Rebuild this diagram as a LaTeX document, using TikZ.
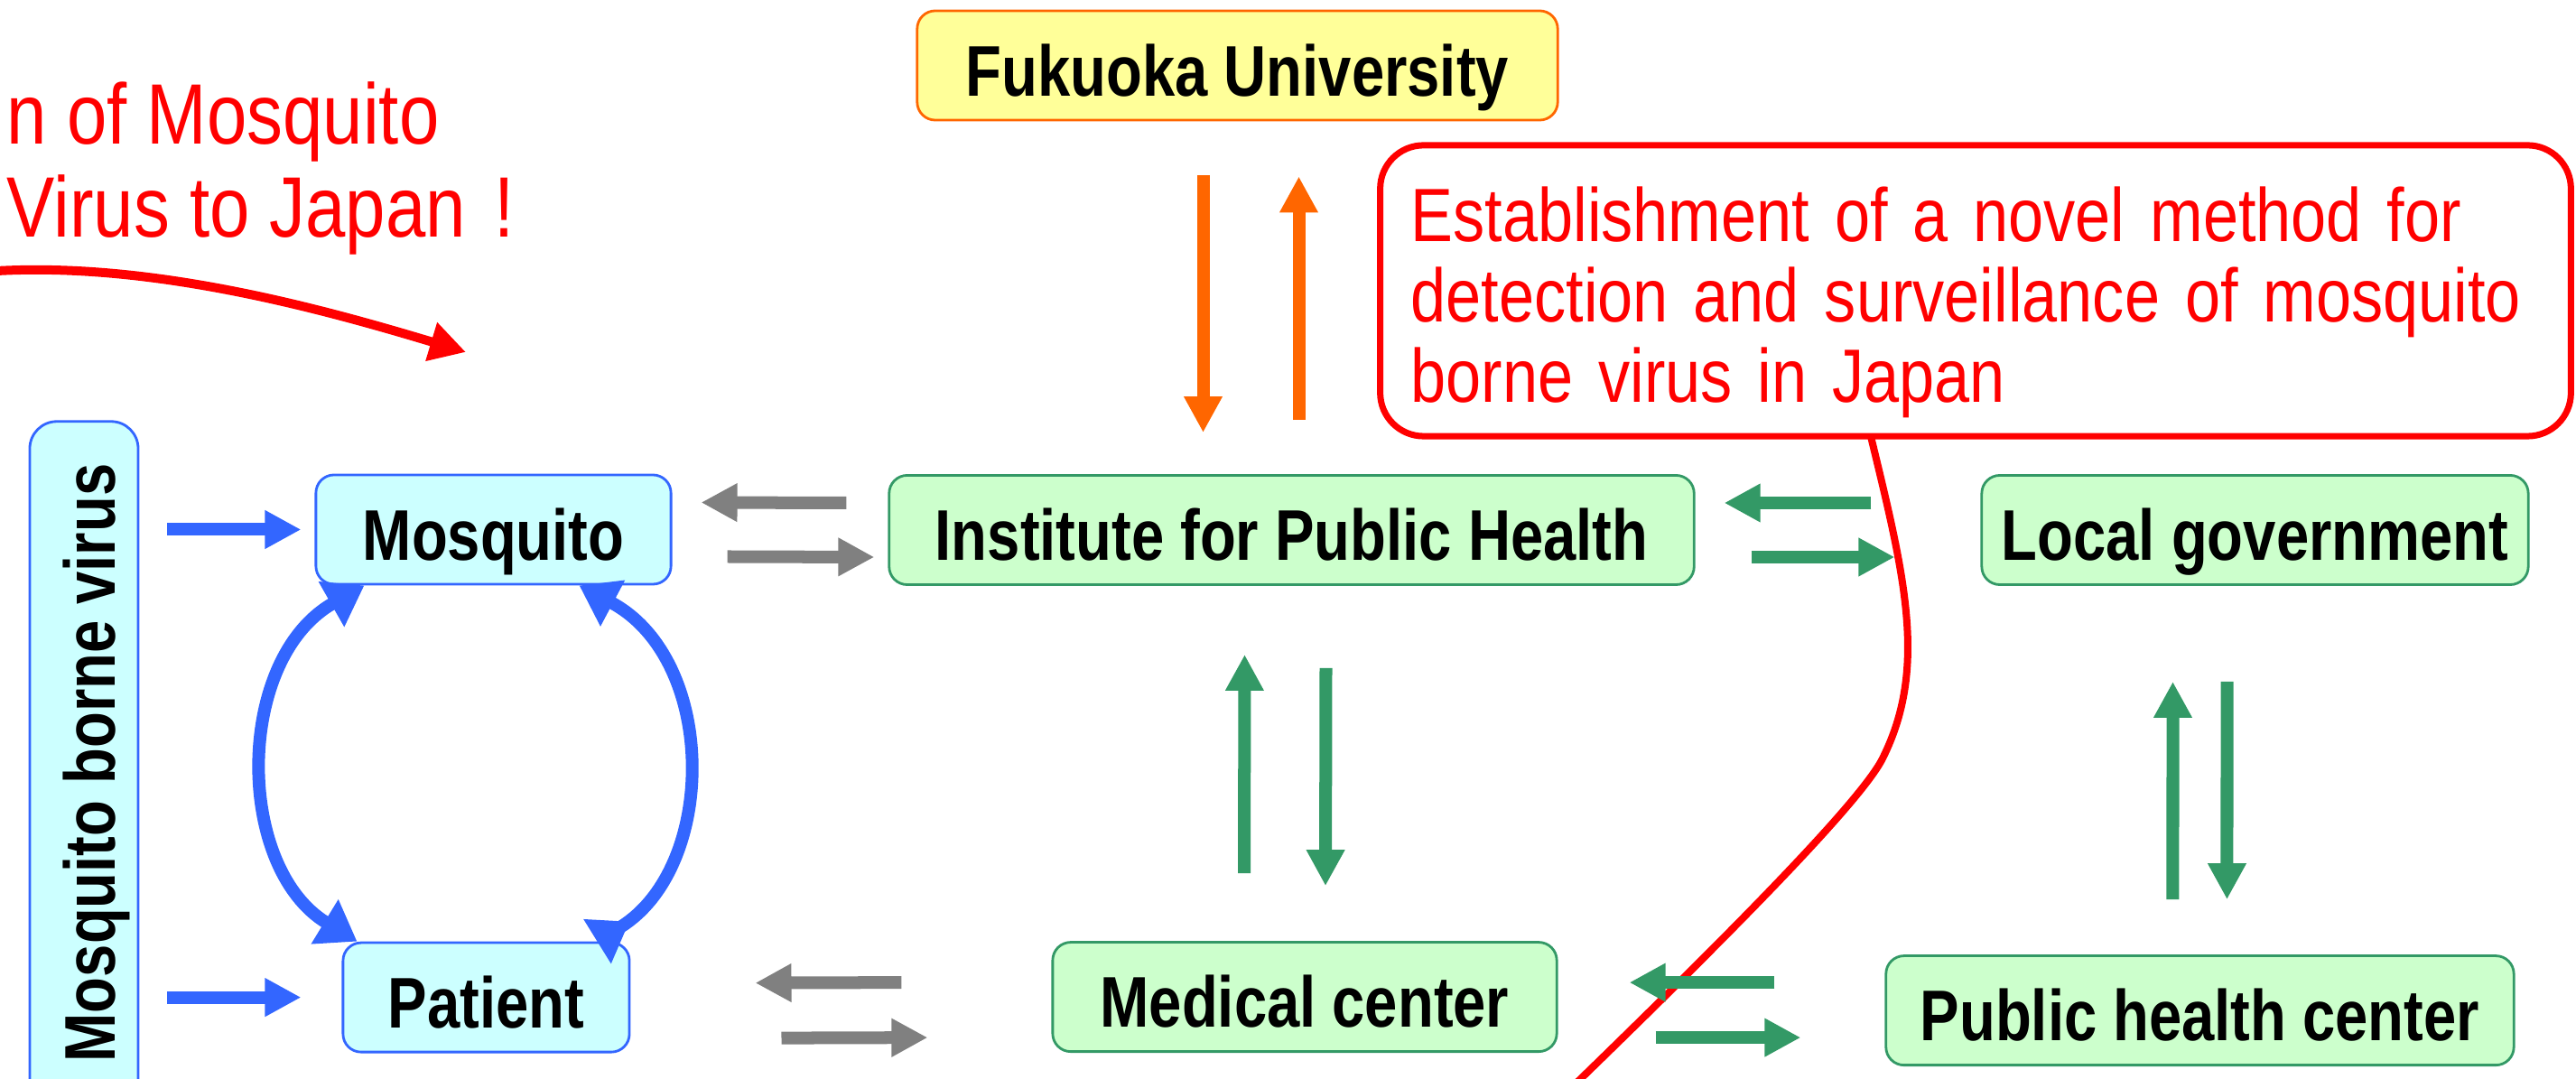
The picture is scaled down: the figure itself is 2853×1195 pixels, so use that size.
\documentclass[tikz,border=0pt]{standalone}
\usepackage{fontspec}
\newfontfamily\boxfont{Liberation Sans}[FakeStretch=0.82]
\newfontfamily\notefont{Liberation Sans}[FakeStretch=0.84]
\usetikzlibrary{positioning,calc,arrows.meta}
\definecolor{hostline}{HTML}{3366FF}
\definecolor{hostfill}{HTML}{CCFFFF}
\definecolor{officeline}{HTML}{339966}
\definecolor{officefill}{HTML}{CCFFCC}
\definecolor{univline}{HTML}{FF6600}
\definecolor{univfill}{HTML}{FFFF99}
\definecolor{flowgray}{HTML}{808080}

\begin{document}
\begin{tikzpicture}[
    x=0.01cm, y=-0.01cm, % <-- ONE UNIT = ONE PIXEL OF THE SLIDE, Y DOWNWARDS
    >={Triangle[length=0.4cm,width=0.4cm]},
    cycletip/.tip={Triangle[length=0.42cm,width=0.55cm]},
    box/.style={draw, line width=0.8pt, rounded corners=0.2cm, inner sep=0pt,
      minimum height=1.21cm, text height=0.67cm, text depth=0pt,
      font=\boxfont\bfseries\fontsize{22.6}{27}\selectfont},
    host/.style={box, draw=hostline, fill=hostfill},
    office/.style={box, draw=officeline, fill=officefill},
    univ/.style={box, draw=univline, fill=univfill},
    note/.style={text=red, inner sep=0pt, align=left},
    flow/.style={line width=0.14cm, ->},
    cycle/.style={line width=0.14cm, draw=hostline}
  ]
    \useasboundingbox (0,0) rectangle (2853,1195);

    % Hosts of the virus
    \node[host, minimum width=1.2cm, minimum height=7.56cm, rounded corners=0.3cm] (vbox) at (93,845) {};
    \node[rotate=90, anchor=base, inner sep=0pt, font=\boxfont\bfseries\fontsize{22.6}{27}\selectfont] (vtext) at (127,845) {Mosquito borne virus};

    \node[host, minimum width=3.93cm] (mosq) at (546.5,586.5) {Mosquito};
    \node[host, minimum width=3.17cm, below=3.94cm of mosq, xshift=-0.08cm] (patient) {Patient};

    % Organisations
    \node[univ, minimum width=7.09cm] (fukuoka) at (1370.5,72.5) {Fukuoka University};
    \node[office, minimum width=8.91cm] (iph) at (1430.5,587) {Institute for Public Health};
    \node[office, minimum width=5.58cm, below=3.93cm of iph, xshift=0.145cm] (medical) {Medical center};
    \node[office, minimum width=6.05cm] (localgov) at (2497.5,587) {Local government};
    \node[office, minimum width=6.95cm, below=4.08cm of localgov, xshift=-0.61cm] (phc) {Public health center};

    % Aim of the study
    \coordinate (tailend) at (1735,1210);
    \draw[red, line width=0.08cm] ($(iph.north east)+(194,-43)$) .. controls (2110,640) and (2135,740) .. (2085,840)
      .. controls (2060,890) and (1900,1050) .. (tailend);
    \node[note, draw=red, fill=white, line width=0.07cm, rounded corners=0.48cm,
      minimum width=13.18cm, minimum height=3.22cm, text width=12.5cm, inner xsep=0.34cm,
      text height=0.86cm, font=\notefont\fontsize{23.8}{25.3}\selectfont] (aim) at (2188,322)
      {Establishment of a novel method for\\detection and surveillance of mosquito\\borne virus in Japan};

    % Invasion
    \node[note, anchor=north west, font=\notefont\fontsize{27}{29.3}\selectfont] (intro) at (7,90)
      {n of Mosquito\\Virus to Japan\,\,!};
    \coordinate (introstart) at (-30,302);
    \coordinate (introtip) at (516,390);
    \draw[red, line width=0.1cm, -{Triangle[length=0.4cm,width=0.42cm]}] (introstart) .. controls (150,285) and (350,340) .. (introtip);

    % Arrows
    \draw[flow, hostline] ($(vbox.east |- mosq.west)+(31,0)$) -- ($(mosq.west)+(-15,0)$);
    \draw[flow, hostline] ($(vbox.east |- patient.west)+(31,0)$) -- ($(patient.west)+(-45,0)$);
    \draw[cycle, {cycletip}-{cycletip}] ($(mosq.south west)+(55,0)$) .. controls (260,730) and (260,960) .. ($(patient.north west)+(17,0)$);
    \draw[cycle, {cycletip[reversed]}-{cycletip}] ($(patient.north east)+(-37,0)$) .. controls (795,960) and (795,730) .. ($(mosq.south east)+(-103,0)$);

    \draw[flow, flowgray] ($(iph.west)+(-46,-30)$) -- ($(mosq.east)+(32,-30)$);
    \draw[flow, flowgray] ($(mosq.east)+(61,30)$) -- ($(iph.west)+(-15,30)$);
    \draw[flow, flowgray] ($(medical.west)+(-166,-16)$) -- ($(patient.east)+(138,-16)$);
    \draw[flow, flowgray] ($(patient.east)+(167,45)$) -- ($(medical.west)+(-137,45)$);

    \draw[flow, univline] ($(fukuoka.south)+(-38,60)$) -- ($(iph.north)+(-98,-46)$);
    \draw[flow, univline] ($(iph.north)+(8,-60)$) -- ($(fukuoka.south)+(68,61)$);

    \draw[flow, officeline] ($(medical.north)+(-67,-75)$) -- ($(iph.south)+(-52,76)$);
    \draw[flow, officeline] ($(iph.south)+(38,91)$) -- ($(medical.north)+(23,-61)$);
    \draw[flow, officeline] ($(localgov.west)+(-121,-30)$) -- ($(iph.east)+(32,-30)$);
    \draw[flow, officeline] ($(iph.east)+(62,30)$) -- ($(localgov.west)+(-95,30)$);
    \draw[flow, officeline] ($(medical.east -| phc.west)+(-122,-16)$) -- ($(medical.east)+(79,-16)$);
    \draw[flow, officeline] ($(medical.east)+(108,45)$) -- ($(medical.east -| phc.west)+(-93,45)$);
    \draw[flow, officeline] ($(phc.north)+(-30,-61)$) -- ($(localgov.south)+(-91,106)$);
    \draw[flow, officeline] ($(localgov.south)+(-31,106)$) -- ($(phc.north)+(30,-61)$);

  \end{tikzpicture}
\end{document}
